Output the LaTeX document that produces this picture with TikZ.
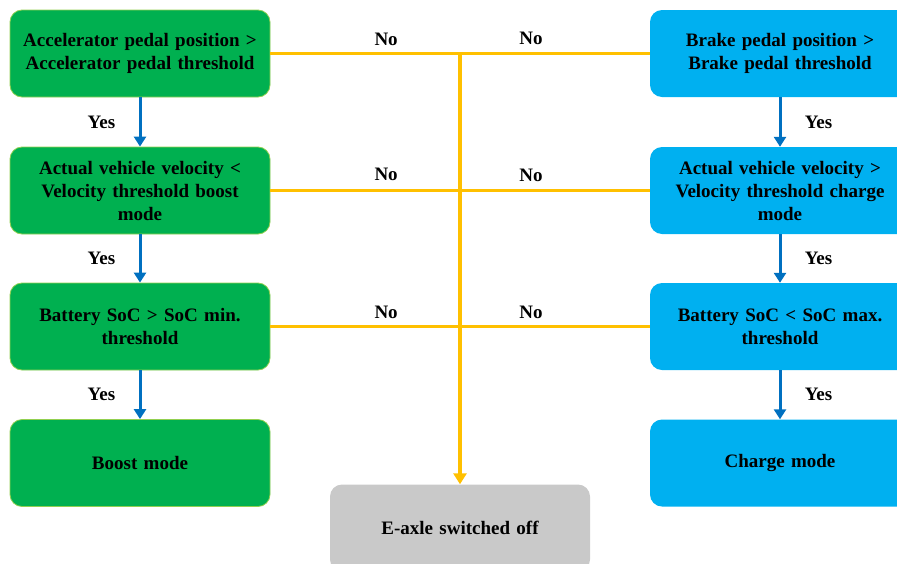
\documentclass[tikz,border=0pt]{standalone}
\usepackage{fontspec}
\setmainfont{Liberation Serif}
\usetikzlibrary{arrows.meta}
\definecolor{boostgreen}{HTML}{00B050}
\definecolor{boostedge}{HTML}{92D050}
\definecolor{chargeblue}{HTML}{00B0F0}
\definecolor{yesblue}{HTML}{0070C0}
\definecolor{noyellow}{HTML}{FFC000}
\definecolor{offgray}{HTML}{C9C9C9}
\begin{document}
\begin{tikzpicture}[
  x=1pt, y=-1pt,
  font=\bfseries\fontsize{19}{23}\selectfont,
  box/.style={rounded corners=12pt, minimum width=260pt, minimum height=87pt,
    text width=254pt, align=center, inner sep=0pt},
  boostbox/.style={box, fill=boostgreen, draw=boostedge, line width=0.8pt},
  chargebox/.style={box, fill=chargeblue},
  offbox/.style={box, fill=offgray},
  yes/.style={draw=yesblue, line width=3pt, -{Triangle[width=12pt,length=10pt]}},
  no/.style={draw=noyellow, line width=3.5pt},
  lbl/.style={font=\bfseries\fontsize{19}{20}\selectfont}
]
  \useasboundingbox (0,0) rectangle (897,563);
  \node[boostbox] (acc) at (140,53.5) {Accelerator pedal position >\\Accelerator pedal threshold};
  \node[boostbox] (vboost) at (140,190.5) {Actual vehicle velocity <\\Velocity threshold boost\\mode};
  \node[boostbox] (socmin) at (140,326.5) {Battery SoC > SoC min.\\threshold};
  \node[boostbox] (boost) at (140,463) {Boost mode};
  \node[chargebox] (brake) at (780,53.5) {Brake pedal position >\\Brake pedal threshold};
  \node[chargebox] (vcharge) at (780,190.5) {Actual vehicle velocity >\\Velocity threshold charge\\mode};
  \node[chargebox] (socmax) at (780,326.5) {Battery SoC < SoC max.\\threshold};
  \node[chargebox] (charge) at (780,463) {Charge mode};
  \node[offbox] (off) at (460,528) {E-axle switched off};

  \draw[no] (acc.east) -- node[lbl, pos=0.305, above=3pt] {No} node[lbl, pos=0.687, above=4pt] {No} (brake.west);
  \draw[no] (vboost.east) -- node[lbl, pos=0.305, above=5pt] {No} node[lbl, pos=0.687, above=4pt] {No} (vcharge.west);
  \draw[no] (socmin.east) -- node[lbl, pos=0.305, above=3pt] {No} node[lbl, pos=0.687, above=3pt] {No} (socmax.west);
  \draw[no, -{Triangle[width=13pt,length=11pt]}] (acc.east -| off.north) -- (off.north);

  \foreach \a/\b in {acc/vboost, vboost/socmin, socmin/boost}
    \draw[yes] (\a) -- node[lbl, left=20pt] {Yes} (\b);
  \foreach \a/\b in {brake/vcharge, vcharge/socmax, socmax/charge}
    \draw[yes] (\a) -- node[lbl, right=20pt] {Yes} (\b);
\end{tikzpicture}
\end{document}
